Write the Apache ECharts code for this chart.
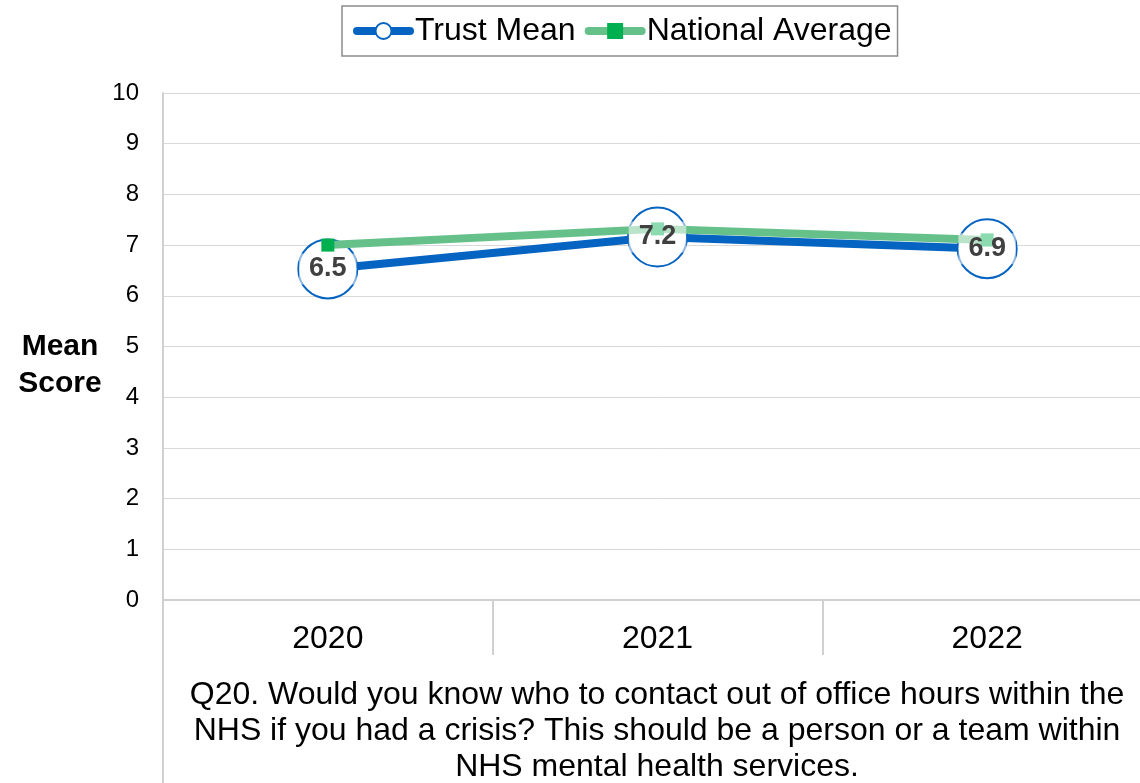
<!DOCTYPE html>
<html><head><meta charset="utf-8">
<script src="https://cdn.jsdelivr.net/npm/echarts@6/dist/echarts.min.js"></script>
<style>html,body{margin:0;padding:0;background:#fff;overflow:hidden}#c{width:1152px;height:783px}</style>
</head><body><div id="c"></div>
<script>
const categories = ['2020', '2021', '2022'];
const trustMean = [6.53, 7.16, 6.93];
const nationalAverage = [7.0, 7.32, 7.1];
const yTicks = [0, 1, 2, 3, 4, 5, 6, 7, 8, 9, 10];
const questionText = 'Q20. Would you know who to contact out of office hours within the\nNHS if you had a crisis? This should be a person or a team within\nNHS mental health services.';
const yName = 'Mean\nScore';

const FONT = '"Liberation Sans", Arial, sans-serif';
const BLUE = '#0563C1';
const chart = echarts.init(document.getElementById('c'));
chart.setOption({
  backgroundColor: '#fff',
  animation: false,
  textStyle: { fontFamily: FONT },
  legend: {
    top: 6, left: 342,
    padding: [9, 6, 9, 11],
    borderColor: '#8c8c8c', borderWidth: 1.5,
    itemWidth: 53, itemHeight: 20, itemGap: 9,
    textStyle: { fontSize: 32, color: '#000', fontFamily: FONT },
    data: [
      { name: 'Trust Mean', itemStyle: { color: '#fff', borderColor: BLUE, borderWidth: 2 },
        lineStyle: { color: BLUE, width: 8, cap: 'round' } },
      { name: 'National Average', itemStyle: { color: '#00B050' },
        lineStyle: { color: '#66C08A', width: 8, cap: 'round' } }
    ]
  },
  grid: { left: 163, top: 93, bottom: 183, right: 0, containLabel: false },
  xAxis: {
    type: 'category', data: categories, boundaryGap: true,
    axisLine: { show: true, lineStyle: { color: '#d0d0d0', width: 2 } },
    axisTick: { show: true, length: 55, interval: 0, lineStyle: { color: '#d0d0d0', width: 2 } },
    axisLabel: { fontSize: 32, color: '#000', margin: 23, fontFamily: FONT }
  },
  yAxis: {
    type: 'value', min: 0, max: 10, interval: 1,
    axisLine: { show: true, lineStyle: { color: '#d0d0d0', width: 2 } },
    axisTick: { show: false },
    splitLine: { lineStyle: { color: '#d9d9d9', width: 1 } },
    axisLabel: { fontSize: 24, color: '#000', margin: 24, fontFamily: FONT,
      formatter: v => yTicks.includes(v) ? String(v) : '' }
  },
  graphic: [
    { type: 'line', shape: { x1: 163, y1: 600, x2: 163, y2: 783 }, style: { stroke: '#d0d0d0', lineWidth: 2 } },
    { type: 'text', x: 60, y: 328, style: { text: yName, font: 'bold 30px ' + FONT, fill: '#000', textAlign: 'center', lineHeight: 37 } },
    { type: 'text', x: 657, y: 677, style: { text: questionText, font: '32px ' + FONT, fill: '#000', textAlign: 'center', lineHeight: 36 } }
  ],
  series: [
    {
      name: 'Trust Mean', type: 'line', data: trustMean, z: 3,
      symbol: 'circle', symbolSize: 59,
      lineStyle: { color: BLUE, width: 8 },
      itemStyle: { color: '#fff', borderColor: BLUE, borderWidth: 2 }
    },
    {
      name: 'National Average', type: 'line', data: nationalAverage, z: 4,
      symbol: 'rect', symbolSize: 13,
      lineStyle: { color: '#66C08A', width: 8 },
      itemStyle: { color: '#00B050' }
    },
    {
      name: 'Trust Mean labels', type: 'scatter', data: trustMean, z: 5,
      symbolSize: 0, silent: true,
      itemStyle: { opacity: 1 },
      label: { show: true, position: 'inside', fontSize: 27, fontWeight: 'bold', color: '#404040', fontFamily: FONT,
        backgroundColor: 'rgba(255,255,255,0.55)', padding: [3, 10, 1, 10],
        formatter: p => p.value.toFixed(1) }
    }
  ]
});
</script></body></html>
